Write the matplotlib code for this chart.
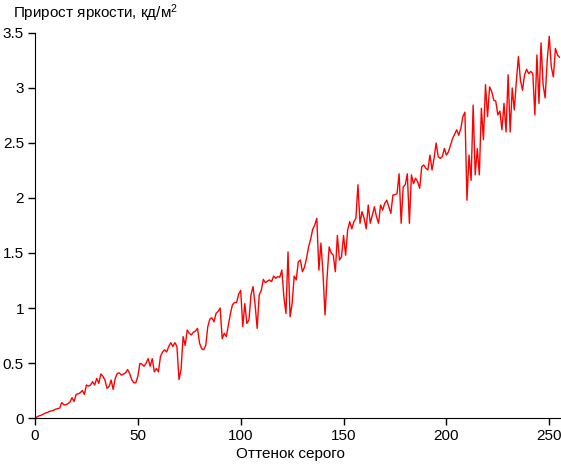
import numpy as np
import matplotlib
matplotlib.use("Agg")
import matplotlib.pyplot as plt

plt.rcParams['font.family'] = ['Liberation Sans', 'DejaVu Sans']
plt.rcParams['mathtext.fontset'] = 'custom'
plt.rcParams['mathtext.rm'] = 'Liberation Sans'
plt.rcParams['mathtext.it'] = 'Liberation Sans'

# brightness increment per gray level
delta = [
    0.00, 0.01, 0.02, 0.025, 0.035, 0.045, 0.05, 0.06, 0.065, 0.07,      # 0
    0.08, 0.085, 0.09, 0.14, 0.12, 0.12, 0.13, 0.145, 0.185, 0.15,      # 10
    0.215, 0.22, 0.23, 0.25, 0.215, 0.30, 0.29, 0.30, 0.33, 0.30,       # 20
    0.36, 0.315, 0.40, 0.38, 0.345, 0.27, 0.285, 0.345, 0.26, 0.36,     # 30
    0.405, 0.41, 0.39, 0.40, 0.41, 0.44, 0.405, 0.35, 0.32, 0.32,       # 40
    0.38, 0.497, 0.49, 0.47, 0.497, 0.54, 0.47, 0.54, 0.42, 0.45,       # 50
    0.42, 0.56, 0.60, 0.62, 0.60, 0.65, 0.685, 0.65, 0.685, 0.65,       # 60
    0.35, 0.44, 0.74, 0.66, 0.80, 0.77, 0.755, 0.78, 0.79, 0.815,       # 70
    0.68, 0.63, 0.62, 0.66, 0.83, 0.90, 0.91, 0.875, 0.95, 0.97,        # 80
    1.00, 0.72, 0.77, 0.74, 0.845, 0.95, 1.03, 1.05, 1.05, 1.125,       # 90
    1.16, 0.83, 1.04, 0.86, 0.89, 1.12, 1.195, 1.03, 0.815, 1.12,       # 100
    1.16, 1.26, 1.23, 1.245, 1.255, 1.24, 1.29, 1.27, 1.285, 1.28,      # 110
    1.345, 1.10, 0.95, 1.51, 0.92, 1.04, 1.29, 1.255, 1.42, 1.436,      # 120
    1.33, 1.37, 1.45, 1.555, 1.625, 1.715, 1.755, 1.815, 1.345, 1.59,   # 130
    1.315, 0.936, 1.285, 1.555, 1.50, 1.48, 1.33, 1.66, 1.436, 1.465,   # 140
    1.66, 1.48, 1.71, 1.785, 1.72, 1.785, 1.815, 2.12, 1.77, 1.876,     # 150
    1.815, 1.72, 1.936, 1.77, 1.845, 1.92, 1.83, 1.77, 1.936, 1.89,     # 160
    1.95, 1.98, 1.92, 1.86, 2.027, 2.03, 2.04, 2.22, 1.77, 2.10,        # 170
    2.12, 2.22, 1.77, 2.21, 2.13, 2.18, 2.15, 2.088, 2.285, 2.30,       # 180
    2.27, 2.255, 2.39, 2.255, 2.36, 2.50, 2.376, 2.36, 2.376, 2.45,     # 190
    2.39, 2.42, 2.48, 2.54, 2.58, 2.62, 2.57, 2.63, 2.74, 2.78,         # 200
    1.98, 2.39, 2.16, 2.845, 2.21, 2.45, 2.21, 2.815, 2.53, 3.03,       # 210
    2.74, 3.01, 2.97, 2.89, 2.88, 2.755, 2.79, 2.62, 2.86, 2.60,        # 220
    3.12, 2.60, 3.00, 2.80, 3.06, 3.285, 3.07, 2.98, 3.12, 3.17,        # 230
    3.13, 3.15, 3.13, 2.755, 3.30, 2.86, 3.41, 3.03, 2.91, 3.25,        # 240
    3.47, 3.19, 3.10, 3.36, 3.30, 3.28,                                 # 250
]
gray = np.arange(len(delta))

xticks = [0, 50, 100, 150, 200, 250]
yticks = [0, 0.5, 1, 1.5, 2, 2.5, 3, 3.5]
ytick_labels = ["0", "0.5", "1", "1.5", "2", "2.5", "3", "3.5"]

fig = plt.figure(figsize=(5.61, 4.71), dpi=100)
ax = fig.add_axes([0.0624, 0.1125, 0.935, 0.8175])

ax.plot(gray, delta, color="red", linewidth=1.0)

ax.set_xlim(0, 255)
ax.set_ylim(0, 3.5)
ax.set_xticks(xticks)
ax.set_yticks(yticks)
ax.set_yticklabels(ytick_labels)

for side in ["top", "right"]:
    ax.spines[side].set_visible(False)
ax.tick_params(direction="out", length=5, width=1, labelsize=11, pad=3)

ax.set_xlabel("Оттенок серого", fontsize=11, labelpad=2)
ax.xaxis.set_label_coords(0.487, -0.075)
fig.text(0.024, 0.972, "Прирост яркости, кд/м$^2$", fontsize=11, va="center", ha="left")

fig.savefig("out.png", dpi=100)
